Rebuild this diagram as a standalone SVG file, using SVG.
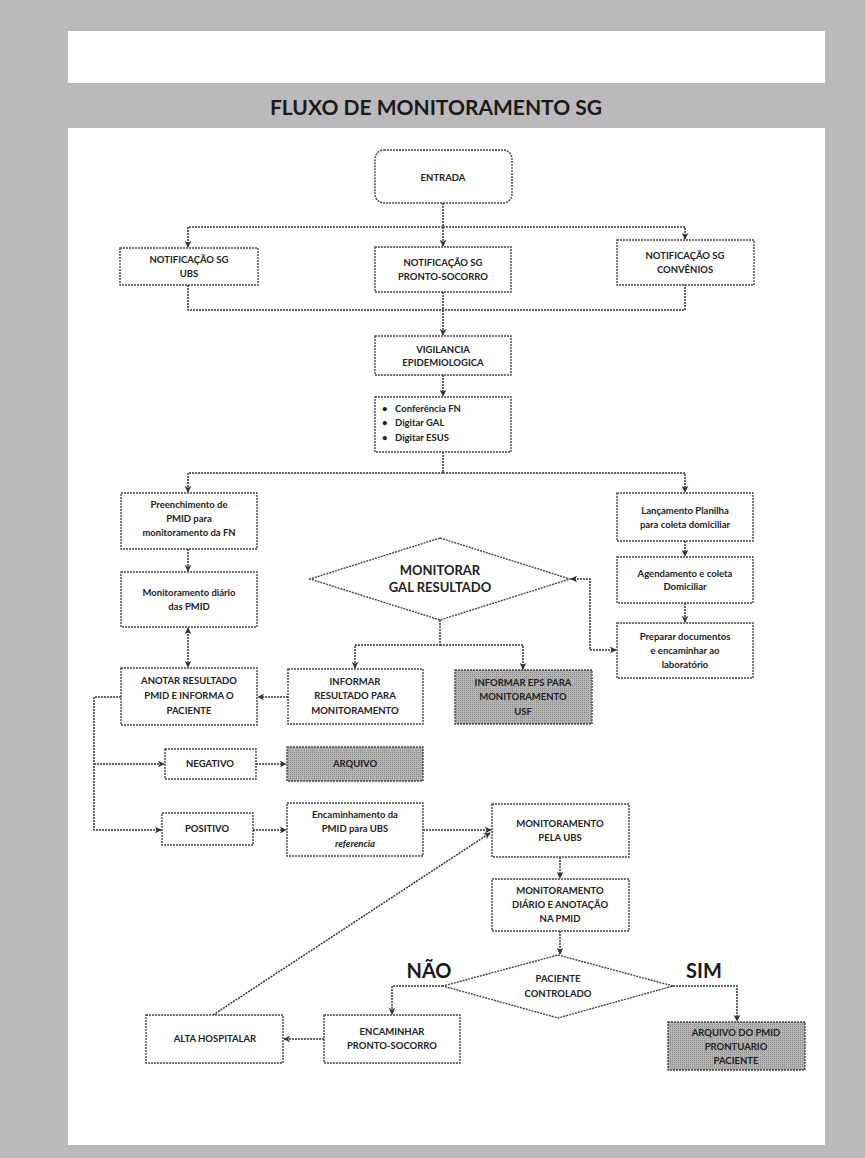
<svg xmlns="http://www.w3.org/2000/svg" width="865" height="1158" viewBox="0 0 865 1158">
<defs>
<marker id="ah" viewBox="0 0 10 10" refX="9" refY="5" markerWidth="7" markerHeight="7" orient="auto-start-reverse" markerUnits="userSpaceOnUse">
<path d="M0,0 L10,5 L0,10 L3,5 z" fill="#333"/>
</marker>
<pattern id="htbox" width="2" height="2" patternUnits="userSpaceOnUse">
<rect width="2" height="2" fill="#b4b4b4"/>
<rect width="1" height="1" fill="#8e8e8e"/>
</pattern>
</defs>
<style>
.bx{fill:#fff;stroke:#444;stroke-width:1.4;stroke-dasharray:2 1}
.gr{fill:url(#htbox);stroke:#444;stroke-width:1.4;stroke-dasharray:2 1}
.cn{fill:none;stroke:#333;stroke-width:1.5;stroke-dasharray:2 1}
.t{font-family:Lato,"Liberation Sans",sans-serif;font-weight:bold;font-size:9.5px;fill:#222;text-anchor:middle}
.tl{font-family:Lato,"Liberation Sans",sans-serif;font-weight:bold;font-size:9.5px;fill:#222}
.big{font-family:Lato,"Liberation Sans",sans-serif;font-weight:bold;font-size:13px;fill:#222;text-anchor:middle}
.lab{font-family:Lato,"Liberation Sans",sans-serif;font-weight:bold;font-size:20px;fill:#1a1a1a;text-anchor:middle}
</style>
<rect x="0" y="0" width="865" height="1158" fill="#bbb9bc"/>
<rect x="68" y="31" width="757" height="52" fill="#fff"/>
<text x="436" y="115" font-family="Lato, 'Liberation Sans', sans-serif" font-weight="bold" font-size="21" fill="#1a1a1a" text-anchor="middle">FLUXO DE MONITORAMENTO SG</text>
<rect x="68" y="128" width="757" height="1017" fill="#fff"/>

<g id="connectors">
<path class="cn" d="M443,203 V246" marker-end="url(#ah)"/>
<path class="cn" d="M443,227 H188 V247" marker-end="url(#ah)"/>
<path class="cn" d="M443,227 H685 V239" marker-end="url(#ah)"/>
<path class="cn" d="M188,285 V310 H685 V285"/>
<path class="cn" d="M443,292 V335" marker-end="url(#ah)"/>
<path class="cn" d="M443,375 V396" marker-end="url(#ah)"/>
<path class="cn" d="M443,452 V473 H188 V492" marker-end="url(#ah)"/>
<path class="cn" d="M443,473 H685 V492" marker-end="url(#ah)"/>
<path class="cn" d="M188,549 V571" marker-end="url(#ah)"/>
<path class="cn" d="M188,628 V667" marker-start="url(#ah)" marker-end="url(#ah)"/>
<path class="cn" d="M685,541 V556" marker-end="url(#ah)"/>
<path class="cn" d="M685,603 V622" marker-end="url(#ah)"/>
<path class="cn" d="M571,579 H590 V650 H616" marker-start="url(#ah)" marker-end="url(#ah)"/>
<path class="cn" d="M440,620 V645 H355 V668" marker-end="url(#ah)"/>
<path class="cn" d="M440,645 H523 V669" marker-end="url(#ah)"/>
<path class="cn" d="M288,697 H258" marker-end="url(#ah)"/>
<path class="cn" d="M121,697 H94 V830 H161" marker-end="url(#ah)"/>
<path class="cn" d="M94,764 H164" marker-end="url(#ah)"/>
<path class="cn" d="M256,764 H286" marker-end="url(#ah)"/>
<path class="cn" d="M253,830 H286" marker-end="url(#ah)"/>
<path class="cn" d="M423,830 H491" marker-end="url(#ah)"/>
<path class="cn" d="M213,1015 L490,833" marker-end="url(#ah)"/>
<path class="cn" d="M560,857 V878" marker-end="url(#ah)"/>
<path class="cn" d="M560,931 V954" marker-end="url(#ah)"/>
<path class="cn" d="M443,986 H392 V1014" marker-end="url(#ah)"/>
<path class="cn" d="M673,986 H737 V1021" marker-end="url(#ah)"/>
<path class="cn" d="M324,1039 H284" marker-end="url(#ah)"/>
</g>

<g id="entrada"><rect class="bx" x="375" y="150" width="137" height="53" rx="9"/><text class="t" x="443" y="181" font-size="11">ENTRADA</text></g>
<g id="notif-ubs"><rect class="bx" x="120" y="248" width="138" height="37"/><text class="t" x="189" y="263">NOTIFICAÇÃO SG</text><text class="t" x="189" y="277">UBS</text></g>
<g id="notif-ps"><rect class="bx" x="375" y="247" width="136" height="45"/><text class="t" x="443" y="266">NOTIFICAÇÃO SG</text><text class="t" x="443" y="280">PRONTO-SOCORRO</text></g>
<g id="notif-conv"><rect class="bx" x="617" y="240" width="137" height="45"/><text class="t" x="685" y="259">NOTIFICAÇÃO SG</text><text class="t" x="685" y="273">CONVÊNIOS</text></g>
<g id="vigilancia"><rect class="bx" x="375" y="336" width="136" height="39"/><text class="t" x="443" y="353">VIGILANCIA</text><text class="t" x="443" y="366">EPIDEMIOLOGICA</text></g>
<g id="tarefas"><rect class="bx" x="375" y="397" width="136" height="55"/>
<text class="tl" x="382" y="412">•</text><text class="tl" x="395" y="412">Conferência FN</text>
<text class="tl" x="382" y="426">•</text><text class="tl" x="395" y="426">Digitar GAL</text>
<text class="tl" x="382" y="441">•</text><text class="tl" x="395" y="441">Digitar ESUS</text></g>
<g id="preenchimento"><rect class="bx" x="121" y="493" width="136" height="56"/><text class="t" x="189" y="508">Preenchimento de</text><text class="t" x="189" y="522">PMID para</text><text class="t" x="189" y="536">monitoramento da FN</text></g>
<g id="mon-diario-pmid"><rect class="bx" x="121" y="572" width="136" height="55"/><text class="t" x="189" y="596">Monitoramento diário</text><text class="t" x="189" y="610">das PMID</text></g>
<g id="anotar"><rect class="bx" x="121" y="668" width="136" height="57"/><text class="t" x="189" y="684">ANOTAR RESULTADO</text><text class="t" x="189" y="699">PMID E INFORMA O</text><text class="t" x="189" y="714">PACIENTE</text></g>
<g id="informar"><rect class="bx" x="288" y="669" width="135" height="55"/><text class="t" x="355" y="685">INFORMAR</text><text class="t" x="355" y="699">RESULTADO PARA</text><text class="t" x="355" y="714">MONITORAMENTO</text></g>
<g id="informar-eps"><rect class="gr" x="455" y="670" width="137" height="54"/><text class="t" x="523" y="686">INFORMAR EPS PARA</text><text class="t" x="523" y="700">MONITORAMENTO</text><text class="t" x="523" y="715">USF</text></g>
<g id="monitorar-gal"><polygon class="bx" points="440,538 570,579 440,620 310,579"/><text class="big" x="440" y="575">MONITORAR</text><text class="big" x="440" y="592">GAL RESULTADO</text></g>
<g id="lancamento"><rect class="bx" x="617" y="493" width="136" height="48"/><text class="t" x="685" y="514">Lançamento Planilha</text><text class="t" x="685" y="528">para coleta domiciliar</text></g>
<g id="agendamento"><rect class="bx" x="617" y="557" width="136" height="46"/><text class="t" x="685" y="577">Agendamento e coleta</text><text class="t" x="685" y="590">Domiciliar</text></g>
<g id="preparar"><rect class="bx" x="617" y="623" width="136" height="55"/><text class="t" x="685" y="640">Preparar documentos</text><text class="t" x="685" y="654">e encaminhar ao</text><text class="t" x="685" y="668">laboratório</text></g>
<g id="negativo"><rect class="bx" x="165" y="749" width="91" height="30"/><text class="t" x="210" y="767">NEGATIVO</text></g>
<g id="arquivo"><rect class="gr" x="287" y="747" width="136" height="34"/><text class="t" x="355" y="767">ARQUIVO</text></g>
<g id="positivo"><rect class="bx" x="162" y="813" width="91" height="32"/><text class="t" x="207" y="832">POSITIVO</text></g>
<g id="encaminhamento"><rect class="bx" x="287" y="803" width="136" height="53"/><text class="t" x="355" y="818">Encaminhamento da</text><text class="t" x="355" y="832">PMID para UBS</text><text class="t" x="355" y="847" font-style="italic">referencia</text></g>
<g id="mon-ubs"><rect class="bx" x="492" y="804" width="137" height="53"/><text class="t" x="560" y="827">MONITORAMENTO</text><text class="t" x="560" y="841">PELA UBS</text></g>
<g id="mon-diario-anot"><rect class="bx" x="492" y="879" width="137" height="52"/><text class="t" x="560" y="894">MONITORAMENTO</text><text class="t" x="560" y="908">DIÁRIO E ANOTAÇÃO</text><text class="t" x="560" y="922">NA PMID</text></g>
<g id="paciente-controlado"><polygon class="bx" points="558,955 673,986 558,1018 443,986"/><text class="t" x="558" y="982">PACIENTE</text><text class="t" x="558" y="997">CONTROLADO</text></g>
<g id="labels"><text class="lab" x="429" y="978">NÃO</text><text class="lab" x="704" y="978">SIM</text></g>
<g id="alta"><rect class="bx" x="146" y="1015" width="137" height="48"/><text class="t" x="215" y="1042">ALTA HOSPITALAR</text></g>
<g id="encaminhar-ps"><rect class="bx" x="324" y="1015" width="136" height="48"/><text class="t" x="392" y="1035">ENCAMINHAR</text><text class="t" x="392" y="1049">PRONTO-SOCORRO</text></g>
<g id="arquivo-pmid"><rect class="gr" x="668" y="1022" width="137" height="48"/><text class="t" x="736" y="1036">ARQUIVO DO PMID</text><text class="t" x="736" y="1050">PRONTUARIO</text><text class="t" x="736" y="1064">PACIENTE</text></g>
</svg>
